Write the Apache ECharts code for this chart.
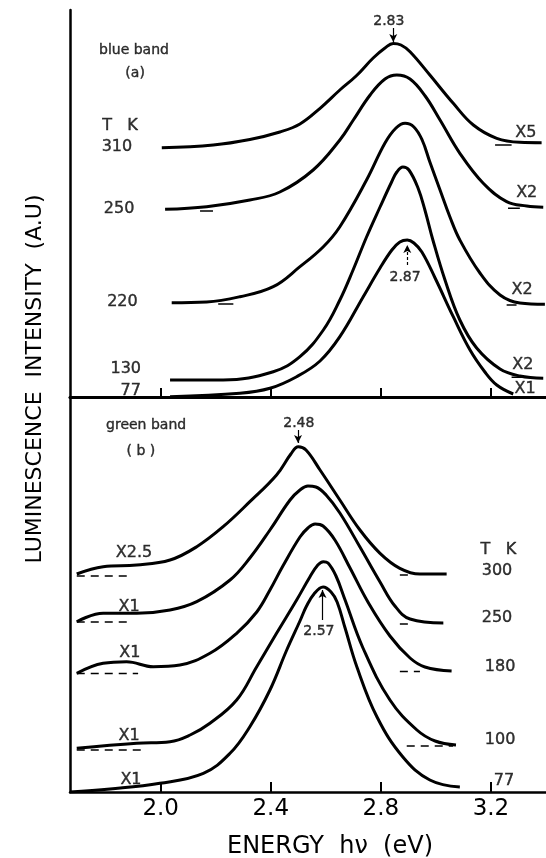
<!DOCTYPE html>
<html>
<head>
<meta charset="utf-8">
<script src="https://cdn.jsdelivr.net/npm/echarts@6/dist/echarts.min.js"></script>
<style>html,body{margin:0;padding:0;background:#fff;}#c{width:546px;height:858px;}</style>
</head>
<body>
<div id="c"></div>
<script>
// ---- axis ----
const energyTicks = [2.0, 2.4, 2.8, 3.2];

// ---- (a) blue band, energy (eV) / intensity (A.U.) ----
const blue310E = [2.004, 2.191, 2.324, 2.433, 2.506, 2.579, 2.651, 2.710, 2.772, 2.815, 2.845, 2.873, 2.906, 2.978, 3.063, 3.136, 3.221, 3.305, 3.384];
const blue310I = [249.3, 252, 257.5, 265, 273, 288.7, 307, 321, 339, 349, 353.5, 352, 345.3, 322, 293.7, 272, 258.7, 254.7, 254.3];
const blue250E = [2.016, 2.167, 2.324, 2.433, 2.554, 2.651, 2.700, 2.761, 2.815, 2.858, 2.906, 2.961, 3.015, 3.087, 3.172, 3.257, 3.330, 3.390];
const blue250I = [187.7, 190.3, 197, 205, 227, 257, 277, 302, 318, 322, 318, 301, 277, 243.7, 213.7, 195.3, 191, 189.7];
const blue220E = [2.040, 2.167, 2.288, 2.409, 2.506, 2.591, 2.651, 2.748, 2.815, 2.855, 2.888, 2.920, 2.950, 2.978, 3.015, 3.051, 3.087, 3.160, 3.233, 3.305, 3.396];
const blue220I = [94.3, 95, 100.3, 110.3, 130.3, 150.3, 170.3, 217, 254, 269, 273.7, 270, 257, 235, 207, 180, 157, 124, 102, 94, 92.7];
const blue130E = [2.034, 2.227, 2.409, 2.506, 2.591, 2.651, 2.699, 2.748, 2.797, 2.839, 2.858, 2.880, 2.902, 2.935, 2.960, 2.989, 3.033, 3.087, 3.148, 3.233, 3.305, 3.390];
const blue130I = [17, 17, 25.3, 40.3, 67, 97, 127, 160, 190, 215, 225, 230, 227, 209, 187, 157, 117, 77, 49, 28, 21, 18.7];
const blue77E = [2.034, 2.288, 2.397, 2.494, 2.579, 2.651, 2.736, 2.797, 2.840, 2.869, 2.896, 2.920, 2.949, 2.997, 3.063, 3.124, 3.178, 3.221, 3.281];
const blue77I = [0.3, 3.7, 8.7, 20.3, 36, 60.3, 100.3, 129, 147, 155, 157, 154, 145, 119, 80.3, 47, 25, 12, 3];

// ---- (b) green band ----
const green300E = [1.695, 1.791, 1.913, 2.034, 2.131, 2.227, 2.324, 2.421, 2.473, 2.500, 2.528, 2.579, 2.651, 2.724, 2.797, 2.869, 2.942, 3.039];
const green300I = [218, 225.3, 227, 232, 245.3, 265.3, 290.3, 317, 338, 345.3, 342, 322, 292, 262, 238.7, 223.7, 218, 218];
const green250E = [1.695, 1.791, 1.913, 2.034, 2.131, 2.252, 2.324, 2.397, 2.470, 2.506, 2.535, 2.564, 2.601, 2.651, 2.724, 2.797, 2.851, 2.906, 3.027];
const green250I = [170.3, 178.7, 178.7, 182, 190.3, 212, 234, 262, 292, 302, 306, 305, 297, 279, 245, 210, 186, 173, 169];
const green180E = [1.695, 1.791, 1.876, 1.973, 2.070, 2.179, 2.276, 2.349, 2.397, 2.444, 2.506, 2.535, 2.561, 2.590, 2.633, 2.688, 2.753, 2.833, 2.906, 2.960, 3.057];
const green180I = [118.7, 128.7, 130.3, 125.3, 127, 138.7, 158.7, 180, 202, 226, 255, 264, 268, 266, 252, 224, 190, 156, 134, 125, 121];
const green100E = [1.695, 1.913, 2.034, 2.107, 2.179, 2.276, 2.349, 2.421, 2.494, 2.542, 2.571, 2.591, 2.608, 2.637, 2.670, 2.735, 2.833, 2.931, 2.997, 3.073];
const green100I = [43.7, 48.7, 50.3, 57, 68.7, 92, 125.3, 158.7, 192, 215, 227, 230.3, 229, 216, 192, 144, 92, 62, 51, 47];
const green77E = [1.671, 1.816, 1.997, 2.155, 2.252, 2.324, 2.397, 2.458, 2.506, 2.530, 2.557, 2.590, 2.619, 2.641, 2.670, 2.713, 2.786, 2.880, 2.978, 3.087];
const green77I = [0, 3, 8.7, 18.7, 38.7, 65.3, 102, 142, 171, 186, 198, 205, 200, 190, 164, 125, 75, 35, 12, 5];

// ---- zero-level markers [startE, endE, intensity] ----
const blueBaseStart = [3.215, 2.143, 3.262, 2.209, 3.257, 3.275];
const blueBaseEnd   = [3.275, 2.190, 3.305, 2.264, 3.293, 3.317];
const blueBaseI     = [252, 186, 188.7, 93, 92, 19.7];
const greenBaseStart = [1.695, 2.869, 1.695, 2.869, 1.695, 2.869, 1.695, 2.894];
const greenBaseEnd   = [1.889, 2.916, 1.881, 2.916, 1.918, 2.942, 1.932, 3.062];
const greenBaseI     = [216, 217, 170, 168, 118.5, 120.5, 42, 46];

// ---- annotations ----
const blueNoteText = ['blue band', '(a)', 'T   K', '310', '250', '220', '130', '77', 'X5', 'X2', 'X2', 'X2', 'X1', '2.83', '2.87'];
const blueNoteE = [1.903, 1.907, 1.852, 1.841, 1.849, 1.861, 1.873, 1.891, 3.327, 3.330, 3.313, 3.316, 3.324, 2.829, 2.888];
const blueNoteI = [347, 324, 271, 250, 187.7, 95.3, 27.7, 6.3, 263.7, 203.7, 107, 32, 7.7, 375.3, 119.7];
const greenNoteText = ['green band', '( b )', '2.48', 'X2.5', 'X1', 'X1', 'X1', 'X1', 'T   K', '300', '250', '180', '100', '77', '2.57'];
const greenNoteE = [1.947, 1.928, 2.502, 1.903, 1.885, 1.888, 1.885, 1.892, 3.227, 3.222, 3.222, 3.233, 3.233, 3.247, 2.575];
const greenNoteI = [367, 341, 368.7, 239.3, 185.3, 138.7, 56.3, 12, 242, 221.3, 173.7, 125.3, 52, 11, 160.3];

// ---- peak arrows [E, fromI, toI] ----
const blueArrowE = [2.845, 2.896];
const blueArrowFrom = [369, 132];
const blueArrowTo = [355, 152];
const greenArrowE = [2.499, 2.588];
const greenArrowFrom = [362, 172];
const greenArrowTo = [349, 202];

const FONT = 'DejaVu Sans';
const xMin = 1.6705, xMax = 3.4;
const zip = (a, b) => a.map((v, i) => [v, b[i]]);

function curve(E, I, xi, yi) {
  return {type: 'line', xAxisIndex: xi, yAxisIndex: yi, data: zip(E, I), symbol: 'none', showSymbol: false,
    smooth: 0.4, lineStyle: {color: '#000', width: 3}, z: 3, silent: true};
}
function bases(S, En, I, xi, yi, dashed) {
  return S.map((s, i) => ({type: 'line', xAxisIndex: xi, yAxisIndex: yi, data: [[s, I[i]], [En[i], I[i]]],
    symbol: 'none', lineStyle: {color: '#000', width: 1.5, type: dashed ? [8, 6] : 'solid'}, z: 2, silent: true}));
}
function fsize(t) {
  if (/band/.test(t) || /\(/.test(t)) return 14;
  if (/^\d\.\d\d$/.test(t)) return 14;
  return 16;
}
function notes(T, E, I, xi, yi, arrE, arrF, arrT, dashedIdx) {
  return {type: 'scatter', xAxisIndex: xi, yAxisIndex: yi, symbolSize: 1, itemStyle: {color: 'rgba(0,0,0,0)'}, silent: true,
    data: T.map((t, i) => ({name: t, value: [E[i], I[i]], label: {fontSize: fsize(t), color: '#000'}})),
    label: {show: true, position: 'inside', formatter: p => p.name, color: '#000', fontFamily: FONT,
      textBorderColor: '#000', textBorderWidth: 0.4},
    markLine: {silent: true, symbol: ['none', 'arrow'], symbolSize: [6, 8], label: {show: false},
      data: arrE.map((e, i) => [{coord: [e, arrF[i]], lineStyle: {color: '#000', width: 1.2, type: i === dashedIdx ? [3, 2] : 'solid'}},
                                {coord: [e, arrT[i]]}])}
  };
}

const chart = echarts.init(document.getElementById('c'), null, {renderer: 'canvas'});
const axisCommon = {type: 'value', min: xMin, max: xMax, splitLine: {show: false}};
chart.setOption({
  animation: false,
  backgroundColor: '#fff',
  grid: [
    {left: 70, top: 10, width: 476, height: 387},
    {left: 70, top: 397, width: 476, height: 395}
  ],
  xAxis: [
    Object.assign({gridIndex: 0, position: 'top', axisLine: {show: true, lineStyle: {color: '#000', width: 3}}, axisTick: {show: false}, axisLabel: {show: false}}, axisCommon),
    Object.assign({gridIndex: 0, position: 'bottom', axisLine: {show: true, lineStyle: {color: '#000', width: 2.5}},
      axisTick: {show: true, inside: true, length: 9, customValues: energyTicks, lineStyle: {color: '#000', width: 2}}, axisLabel: {show: false}}, axisCommon),
    Object.assign({gridIndex: 1, position: 'bottom', axisLine: {show: true, lineStyle: {color: '#000', width: 2.5}},
      axisTick: {show: true, inside: true, length: 10, customValues: energyTicks, lineStyle: {color: '#000', width: 2}},
      axisLabel: {show: true, customValues: energyTicks, formatter: v => v.toFixed(1), fontSize: 23, margin: 6, color: '#000', fontFamily: FONT}}, axisCommon)
  ],
  yAxis: [
    {gridIndex: 0, type: 'value', min: 0, max: 387, axisLine: {show: true, lineStyle: {color: '#000', width: 2.5}}, axisTick: {show: false}, axisLabel: {show: false}, splitLine: {show: false}},
    {gridIndex: 1, type: 'value', min: 0, max: 395, axisLine: {show: true, lineStyle: {color: '#000', width: 2.5}}, axisTick: {show: false}, axisLabel: {show: false}, splitLine: {show: false}}
  ],
  graphic: [
    {type: 'text', x: 35, y: 379, rotation: Math.PI / 2, style: {text: 'LUMINESCENCE  INTENSITY  (A.U)', font: '22px "DejaVu Sans"', fill: '#000', align: 'center', verticalAlign: 'middle'}},
    {type: 'text', x: 330, y: 847, style: {text: 'ENERGY  hν  (eV)', font: '24px "DejaVu Sans"', fill: '#000', align: 'center', verticalAlign: 'middle'}}
  ],
  series: [
    curve(blue310E, blue310I, 1, 0),
    curve(blue250E, blue250I, 1, 0),
    curve(blue220E, blue220I, 1, 0),
    curve(blue130E, blue130I, 1, 0),
    curve(blue77E, blue77I, 1, 0),
    curve(green300E, green300I, 2, 1),
    curve(green250E, green250I, 2, 1),
    curve(green180E, green180I, 2, 1),
    curve(green100E, green100I, 2, 1),
    curve(green77E, green77I, 2, 1),
    ...bases(blueBaseStart, blueBaseEnd, blueBaseI, 1, 0, false),
    ...bases(greenBaseStart, greenBaseEnd, greenBaseI, 2, 1, true),
    notes(blueNoteText, blueNoteE, blueNoteI, 1, 0, blueArrowE, blueArrowFrom, blueArrowTo, 1),
    notes(greenNoteText, greenNoteE, greenNoteI, 2, 1, greenArrowE, greenArrowFrom, greenArrowTo, -1)
  ]
});
</script>
</body>
</html>
